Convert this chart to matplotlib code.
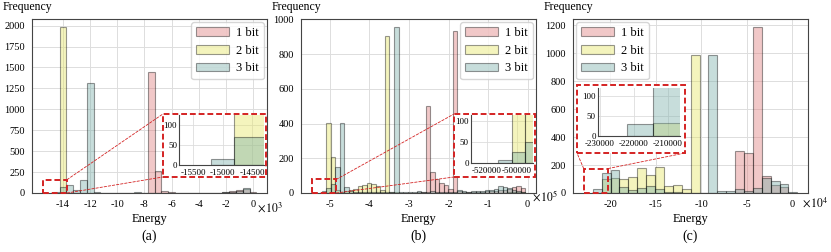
import numpy as np
import matplotlib
matplotlib.use('Agg')
import matplotlib.pyplot as plt
from matplotlib.patches import Rectangle, ConnectionPatch
from matplotlib.ticker import FixedLocator, FuncFormatter

plt.rcParams['font.family'] = ['Liberation Serif', 'DejaVu Serif']
plt.rcParams['mathtext.fontset'] = 'stix'
plt.rcParams['axes.unicode_minus'] = False

labels = ['1 bit', '2 bit', '3 bit']
colors = ['#de7676', '#e4e45c', '#75aca7']

# (a) energies, shared bins
a_lo, a_hi, a_n = -14750, 250, 30
a_1bit = [0, 0, 0, 0, 0, 0, 0, 0, 0, 0, 0, 0, 0, 0, 1450, 260, 25, 6, 3, 2,
          2, 2, 2, 3, 5, 10, 20, 40, 45, 10]
a_2bit = [0, 1980, 0, 0, 0, 0, 0, 0, 0, 0, 0, 0, 0, 0, 0, 0, 0, 0, 0, 0,
          0, 0, 0, 0, 0, 0, 0, 0, 0, 0]
a_3bit = [15, 70, 95, 40, 150, 1310, 15, 5, 2, 2, 2, 2, 10, 0, 0, 0, 0, 0, 0, 0,
          0, 0, 2, 3, 4, 8, 15, 25, 60, 0]
# (a) zoomed view
a_in_edges = [-15200, -14810, -14250]
a_in_1bit = [0, 0]
a_in_2bit = [0, 1980]
a_in_3bit = [15, 70]

# (b)
b_lo, b_hi, b_n = -521000, -5750, 45
b_1bit = [0, 0, 0, 0, 0, 0, 0, 0, 0, 0, 0, 0, 0, 0, 0, 0, 0, 0, 0, 0,
          2, 3, 4, 500, 120, 78, 60, 45, 25, 935, 12, 5, 5, 5, 6, 8, 10, 10, 12, 15,
          20, 25, 35, 38, 30]
b_2bit = [0, 405, 210, 20, 5, 10, 15, 25, 40, 45, 55, 50, 40, 20, 905, 3, 3, 2, 2, 2,
          2, 2, 2, 2, 2, 2, 2, 2, 2, 2, 2, 2, 2, 2, 2, 2, 2, 2, 2, 2,
          2, 3, 3, 3, 3]
b_3bit = [10, 30, 50, 150, 405, 35, 10, 5, 3, 3, 3, 3, 3, 3, 3, 5, 955, 5, 8, 8,
          8, 10, 8, 8, 10, 8, 6, 6, 6, 6, 15, 10, 8, 10, 12, 12, 15, 18, 25, 38,
          35, 30, 20, 10, 5]
b_in_edges = [-512500, -503500, -494600, -485700]
b_in_1bit = [0, 0, 0]
b_in_2bit = [0, 405, 210]
b_in_3bit = [8, 26, 50]

# (c)
c_lo, c_hi, c_n = -219000, 5480, 23
c_1bit = [0, 0, 0, 0, 0, 0, 0, 0, 0, 0, 0, 0, 0, 0, 0, 0, 300, 285, 1185, 120,
          60, 42, 0]
c_2bit = [0, 100, 105, 100, 115, 180, 130, 185, 48, 55, 26, 985, 0, 0, 0, 0, 0, 0, 0, 0,
          0, 0, 0]
c_3bit = [30, 140, 165, 45, 25, 35, 50, 30, 10, 5, 0, 0, 0, 990, 12, 12, 30, 12, 37, 104,
          84, 62, 5]
c_in_edges = [-222000, -214400, -206000]
c_in_1bit = [0, 0]
c_in_2bit = [0, 33]
c_in_3bit = [30, 140]

# ticks
a_xticks = [-14000, -12000, -10000, -8000, -6000, -4000, -2000, 0]
b_xticks = [-500000, -400000, -300000, -200000, -100000, 0]
c_xticks = [-200000, -150000, -100000, -50000, 0]
a_yticks = [0, 250, 500, 750, 1000, 1250, 1500, 1750, 2000]
b_yticks = [0, 200, 400, 600, 800, 1000]
c_yticks = [0, 200, 400, 600, 800, 1000, 1200]
a_in_xticks = [-15500, -15000, -14500]
b_in_xticks = [-520000, -500000]
c_in_xticks = [-230000, -220000, -210000]
in_yticks = [0, 50, 100]

panels = [
    dict(bins=(a_lo, a_hi, a_n), data=(a_1bit, a_2bit, a_3bit), xticks=a_xticks, yticks=a_yticks,
         in_edges=a_in_edges, in_data=(a_in_1bit, a_in_2bit, a_in_3bit), in_xticks=a_in_xticks,
         exp=3, leg='upper right', in_xlim=(-15740, -14300), in_ylim=(0, 125),
         rect=(-15500, -13700, 160), inset=[0.626, 0.161, 0.362, 0.287],
         frame=[0.557, 0.092, 0.996, 0.454], side='left', off=(0.957, -0.086), cap='(a)'),
    dict(bins=(b_lo, b_hi, b_n), data=(b_1bit, b_2bit, b_3bit), xticks=b_xticks, yticks=b_yticks,
         in_edges=b_in_edges, in_data=(b_in_1bit, b_in_2bit, b_in_3bit), in_xticks=b_in_xticks,
         exp=5, leg='upper right', in_xlim=(-530700, -489300), in_ylim=(0, 113),
         rect=(-546000, -484000, 78), inset=[0.723, 0.172, 0.264, 0.276],
         frame=[0.651, 0.092, 0.996, 0.454], side='left', off=(0.985, -0.02), cap='(b)'),
    dict(bins=(c_lo, c_hi, c_n), data=(c_1bit, c_2bit, c_3bit), xticks=c_xticks, yticks=c_yticks,
         in_edges=c_in_edges, in_data=(c_in_1bit, c_in_2bit, c_in_3bit), in_xticks=c_in_xticks,
         exp=4, leg='upper left', in_xlim=(-230600, -206500), in_ylim=(0, 120),
         rect=(-229000, -202000, 175), inset=[0.106, 0.328, 0.349, 0.276],
         frame=[0.017, 0.23, 0.477, 0.62], side='bottom', off=(0.974, -0.055), cap='(c)'),
]

lefts = [32, 301, 573]
red = '#d42323'

fig = plt.figure(figsize=(8.31, 2.52), dpi=100)

def draw_hist(ax, edges, data, with_label):
    edges = np.asarray(edges, dtype=float)
    centers = (edges[:-1] + edges[1:]) / 2
    for counts, col, lab in zip(data, colors, labels):
        ax.hist(centers, bins=edges, weights=counts, color=col, alpha=0.4,
                edgecolor='k', linewidth=0.8, label=lab if with_label else None)

for p, left in zip(panels, lefts):
    ax = fig.add_axes([left / 831, 1 - 193 / 252, 235 / 831, 174 / 252])
    lo, hi, n = p['bins']
    draw_hist(ax, np.linspace(lo, hi, n + 1), p['data'], True)

    scale = 10 ** p['exp']
    ax.xaxis.set_major_locator(FixedLocator(p['xticks']))
    ax.xaxis.set_major_formatter(FuncFormatter(lambda v, pos, s=scale: f'{v / s:g}'))
    ax.yaxis.set_major_locator(FixedLocator(p['yticks']))
    ax.yaxis.set_major_formatter(FuncFormatter(lambda v, pos: f'{v:g}'))
    ax.grid(True, color='#dddddd', linewidth=0.7)
    ax.set_axisbelow(True)
    ax.tick_params(length=0, labelsize=7.5, pad=5)
    for s in ax.spines.values():
        s.set_color('#444444')
        s.set_linewidth(0.8)

    ax.text(p['off'][0], p['off'][1], r'$\times\,10^{%d}$' % p['exp'], transform=ax.transAxes,
            ha='left', va='center', fontsize=8.5)
    ax.text(-0.123, 1.07, 'Frequency', transform=ax.transAxes, ha='left', va='center',
            fontsize=8.5)
    ax.set_xlabel('Energy', fontsize=9, labelpad=3)
    ax.legend(loc=p['leg'], fontsize=9, handlelength=2.6, labelspacing=0.45,
              borderaxespad=0.25, handletextpad=0.6)

    # zoomed region marker
    x0, x1, rh = p['rect']
    ax.add_patch(Rectangle((x0, 0), x1 - x0, rh, fill=False, edgecolor=red,
                           linestyle=(0, (3, 1.5)), linewidth=1.4, zorder=6, clip_on=False))

    fx0, fy0, fx1, fy1 = p['frame']
    ax.add_patch(Rectangle((fx0, fy0), fx1 - fx0, fy1 - fy0, transform=ax.transAxes,
                           facecolor='white', edgecolor='none', zorder=4.5, clip_on=False))
    ax.add_patch(Rectangle((fx0, fy0), fx1 - fx0, fy1 - fy0, transform=ax.transAxes,
                           fill=False, edgecolor=red, linestyle=(0, (3, 1.5)), linewidth=1.4,
                           zorder=6, clip_on=False))
    if p['side'] == 'left':
        pairs = [((x1, rh), (fx0, fy1)), ((x1, 0), (fx0, fy0))]
    else:
        pairs = [((x0, rh), (fx0, fy0)), ((x1, rh), (fx1, fy0))]
    for a_pt, b_pt in pairs:
        con = ConnectionPatch(xyA=a_pt, coordsA='data', xyB=b_pt, coordsB='axes fraction',
                              axesA=ax, axesB=ax, color=red, linewidth=0.6,
                              linestyle=(0, (3, 2)), zorder=6)
        ax.add_artist(con)

    axin = ax.inset_axes(p['inset'])
    draw_hist(axin, p['in_edges'], p['in_data'], False)
    axin.set_xlim(*p['in_xlim'])
    axin.set_ylim(*p['in_ylim'])
    axin.xaxis.set_major_locator(FixedLocator(p['in_xticks']))
    axin.xaxis.set_major_formatter(FuncFormatter(lambda v, pos: f'{v:.0f}'))
    axin.yaxis.set_major_locator(FixedLocator(in_yticks))
    axin.yaxis.set_major_formatter(FuncFormatter(lambda v, pos: f'{v:.0f}'))
    axin.grid(True, color='#dddddd', linewidth=0.6)
    axin.set_axisbelow(True)
    axin.tick_params(length=0, labelsize=6.5)
    axin.tick_params(axis='x', pad=3)
    axin.tick_params(axis='y', pad=1.5)
    axin.spines['top'].set_visible(False)
    axin.spines['right'].set_visible(False)
    for s in ('left', 'bottom'):
        axin.spines[s].set_color('#444444')
        axin.spines[s].set_linewidth(0.8)

    fig.text((left + 117.5) / 831, 1 - 236 / 252, p['cap'], ha='center', va='center',
             fontsize=10)

fig.savefig('out.png', dpi=100)
